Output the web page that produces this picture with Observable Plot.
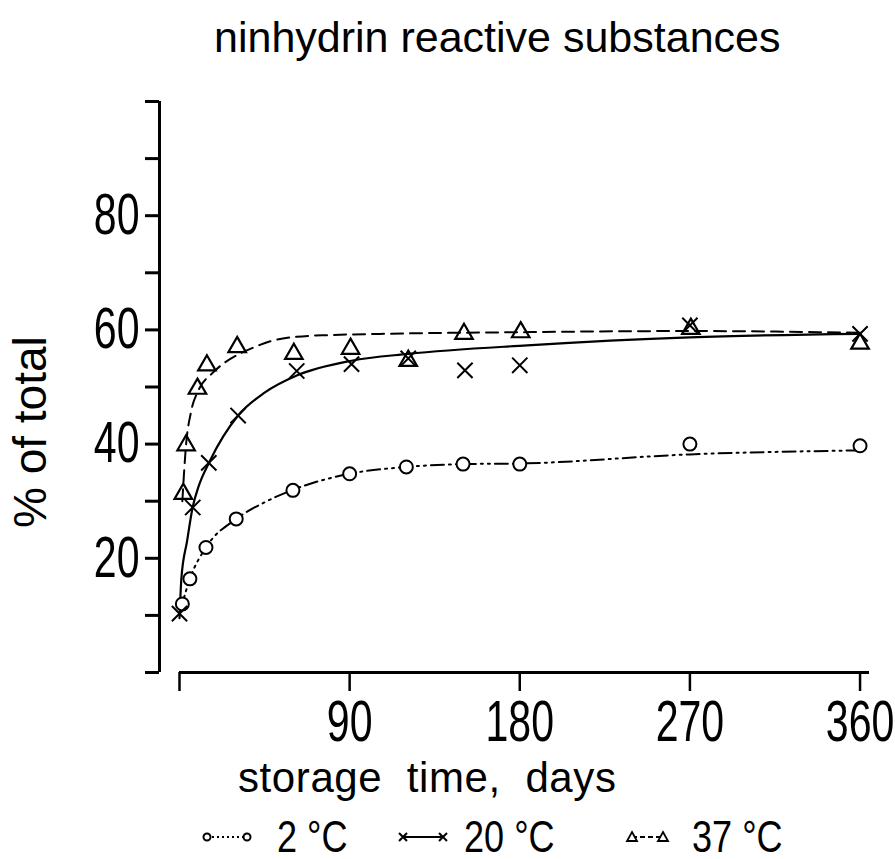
<!DOCTYPE html>
<html><head><meta charset="utf-8">
<script src="https://cdn.jsdelivr.net/npm/d3@7"></script>
<script src="https://cdn.jsdelivr.net/npm/@observablehq/plot@0.6"></script>
<style>
body{margin:0;background:#fff;}
#wrap{position:relative;width:895px;height:859px;overflow:hidden;font-family:"Liberation Sans",Arial,sans-serif;color:#000;}
.t{position:absolute;white-space:pre;line-height:1;}
#chart{position:absolute;left:0;top:90px;}
#legend{position:absolute;left:0;top:808px;}
#legend svg{overflow:visible;}
</style></head><body><div id="wrap">
<div class="t" id="title" style="left:214px;top:16px;font-size:43px;">ninhydrin reactive substances</div>
<div id="chart"></div>
<div class="t" id="xlabel" style="left:238px;top:757px;font-size:42px;letter-spacing:0.6px;">storage  time,  days</div>
<div id="legend"></div>
</div>
<script>
// ---- data ----
const series = ["2 °C", "20 °C", "37 °C"];
// measured points
const days2 = [1.5, 5.5, 14, 30, 60, 90, 120, 150, 180, 270, 360];
const vals2 = [12.0, 16.4, 21.9, 26.9, 31.9, 34.8, 36.0, 36.5, 36.5, 40.0, 39.7];
const days20 = [0, 7, 15.5, 31, 62, 91, 121, 151, 180, 270, 360];
const vals20 = [10.3, 28.9, 36.7, 45.0, 52.8, 54.0, 55.0, 52.9, 53.8, 60.8, 59.3];
const days37 = [2, 3.5, 9.5, 14.5, 30.5, 60.5, 90.5, 121, 150.5, 180.5, 270.5, 360];
const vals37 = [31.3, 39.8, 49.7, 53.8, 57.0, 55.8, 56.7, 54.6, 59.3, 59.6, 60.2, 57.6];
// fitted curves
const curveDays2 = [0, 1.5, 5.5, 14, 30, 45, 60, 90, 120, 150, 180, 270, 360];
const curveVals2 = [10.0, 12.0, 16.4, 21.9, 26.9, 29.8, 32.0, 34.8, 36.0, 36.5, 36.6, 38.2, 38.9];
const curveDays20 = [0, 1, 4, 7, 10, 16, 31, 45, 62, 91, 121, 184, 270, 360];
const curveVals20 = [9.5, 16.5, 23.0, 29.0, 32.5, 37.0, 45.0, 49.0, 52.0, 54.6, 55.8, 57.3, 58.7, 59.3];
const curveDays37 = [1.5, 3.5, 6, 10, 17, 22, 30, 39, 48, 62, 80, 106, 180, 270, 360];
const curveVals37 = [30.0, 40.0, 45.5, 49.4, 52.3, 53.8, 55.5, 56.9, 58.0, 58.8, 59.1, 59.3, 59.6, 59.8, 59.5];
// axes
const yTicks = [0, 10, 20, 30, 40, 50, 60, 70, 80, 90, 100];
const yLabels = [20, 40, 60, 80];
const xTicks = [0, 90, 180, 270, 360];
const xLabels = [90, 180, 270, 360];

const pts = (ds, vs) => ds.map((d, i) => ({day: d, v: vs[i]}));
const p2 = pts(days2, vals2), p20 = pts(days20, vals20), p37 = pts(days37, vals37);
const c2 = pts(curveDays2, curveVals2), c20 = pts(curveDays20, curveVals20), c37 = pts(curveDays37, curveVals37);

const tickFont = '"Liberation Sans",Arial,sans-serif';
const dash2 = "13 5 2 5 2 5";
const dash37 = "12 7";

const chart = Plot.plot({
  width: 895,
  height: 769,
  marginTop: 11,
  marginBottom: 187,
  marginLeft: 179,
  marginRight: 26,
  x: {domain: [0, 365]},
  y: {domain: [0, 100]},
  style: {background: "white", color: "black", overflow: "visible"},
  marks: [
    Plot.ruleY([0], {x1: 0, x2: 365, strokeWidth: 3}),
    Plot.ruleX([0], {y1: 0, y2: 100, dx: -20, strokeWidth: 3}),
    Plot.axisY({ticks: yTicks, tickSize: 14, dx: -20, text: null, strokeWidth: 3, label: null}),
    Plot.axisY({ticks: yLabels, tickSize: 0, tickPadding: 40, fontSize: 57, fontFamily: tickFont, label: null}),
    Plot.axisX({ticks: xTicks, tickSize: 19, text: null, strokeWidth: 2.5, label: null}),
    Plot.axisX({ticks: xLabels, tickSize: 0, tickPadding: 28, fontSize: 57, fontFamily: tickFont, label: null}),
    Plot.text(["% of total"], {frameAnchor: "left", rotate: -90, dx: -148, dy: 141, fontSize: 46, fontFamily: '"Liberation Sans",sans-serif', lineAnchor: "middle"}),
    Plot.line(c2, {x: "day", y: "v", curve: "monotone-x", strokeWidth: 2, strokeDasharray: dash2}),
    Plot.line(c20, {x: "day", y: "v", curve: "monotone-x", strokeWidth: 2.2}),
    Plot.line(c37, {x: "day", y: "v", curve: "monotone-x", strokeWidth: 2, strokeDasharray: dash37}),
    Plot.dot(p2, {x: "day", y: "v", symbol: "circle", r: 6.5, stroke: "black", fill: "white", strokeWidth: 2}),
    Plot.dot(p20, {x: "day", y: "v", symbol: "times", r: 7, stroke: "black", strokeWidth: 2}),
    Plot.dot(p37, {x: "day", y: "v", symbol: "triangle", r: 6.5, stroke: "black", fill: "none", strokeWidth: 2.2})
  ]
});
document.getElementById("chart").appendChild(chart);
// condense tick label glyphs horizontally (narrow digits in the reference)
d3.select(chart).selectAll('g[aria-label$="tick label"] text').each(function() {
  const w = this.getComputedTextLength();
  if (w > 0) {
    this.setAttribute("textLength", (w * 0.72).toFixed(1));
    this.setAttribute("lengthAdjust", "spacingAndGlyphs");
  }
});

// legend
const lg = d3.select("#legend").append("svg").attr("width", 895).attr("height", 51);
const cy = 29;
const items = [
  {x0: 207, x1: 247, tx: 277, label: series[0], dash: "2 3", sym: "circle"},
  {x0: 403, x1: 443, tx: 464, label: series[1], dash: null, sym: "times"},
  {x0: 632, x1: 663, tx: 692, label: series[2], dash: "5 3", sym: "triangle"}
];
items.forEach(it => {
  const g = lg.append("g");
  g.append("line").attr("x1", it.x0).attr("x2", it.x1).attr("y1", cy).attr("y2", cy)
    .attr("stroke", "black").attr("stroke-width", 2).attr("stroke-dasharray", it.dash);
  [it.x0, it.x1].forEach(x => {
    if (it.sym === "circle") {
      g.append("circle").attr("cx", x).attr("cy", cy).attr("r", 3.5).attr("fill", "white").attr("stroke", "black").attr("stroke-width", 2);
    } else if (it.sym === "times") {
      g.append("path").attr("d", `M${x-4},${cy-4}L${x+4},${cy+4}M${x-4},${cy+4}L${x+4},${cy-4}`).attr("stroke", "black").attr("stroke-width", 2);
    } else {
      g.append("path").attr("d", `M${x},${cy-5}L${x+5},${cy+4}L${x-5},${cy+4}Z`).attr("fill", "white").attr("stroke", "black").attr("stroke-width", 1.8);
    }
  });
  const txt = g.append("text").attr("x", it.tx).attr("y", 44).attr("font-size", 44)
    .attr("font-family", '"Liberation Sans",sans-serif').text(it.label);
  const w = txt.node().getComputedTextLength();
  txt.attr("textLength", (w * 0.82).toFixed(1)).attr("lengthAdjust", "spacingAndGlyphs");
});
</script>
</body></html>
